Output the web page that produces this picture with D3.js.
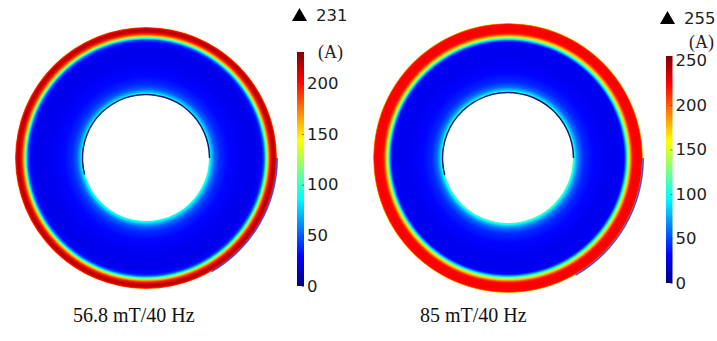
<!DOCTYPE html>
<html>
<head>
<meta charset="utf-8">
<script src="https://cdn.jsdelivr.net/npm/d3@7"></script>
<style>
  html, body { margin: 0; padding: 0; background: #fff; }
  svg { display: block; }
</style>
</head>
<body>
<svg id="chart" width="717" height="341"></svg>
<script>
// Case captions and colour-range maxima (A)
const panelLabels = ["56.8 mT/40 Hz", "85 mT/40 Hz"];
const maxValues = [231, 255];
const tickValuesLeft = [0, 50, 100, 150, 200];
const tickValuesRight = [0, 50, 100, 150, 200, 250];

// Radial current profile across the annulus (radius as fraction of outer radius)
const radiusLeft = [0.481, 0.492, 0.504, 0.527, 0.565, 0.626, 0.725, 0.840, 0.885, 0.901, 0.912, 0.924, 0.935, 0.947, 0.962, 0.977, 0.989, 0.996, 1.0];
const valueLeft  = [95, 85, 70, 50, 38, 30, 26, 24, 30, 50, 85, 125, 165, 195, 212, 220, 208, 190, 165];
const radiusRight = [0.481, 0.493, 0.504, 0.526, 0.563, 0.630, 0.741, 0.830, 0.859, 0.870, 0.881, 0.893, 0.904, 0.915, 0.926, 0.963, 0.989, 0.996, 1.0];
const valueRight  = [115, 100, 80, 58, 42, 33, 28, 28, 32, 60, 100, 140, 175, 205, 222, 225, 222, 190, 160];

const innerFraction = 0.481;

// Jet-style rainbow colour map on [0, 1]
function jet(t) {
  const c = v => Math.max(0, Math.min(1, v));
  const r = c(1.5 - Math.abs(4 * t - 3));
  const g = c(1.5 - Math.abs(4 * t - 2));
  const b = c(1.5 - Math.abs(4 * t - 1));
  return d3.rgb(r * 255, g * 255, b * 255).formatHex();
}

const svg = d3.select("#chart");
const defs = svg.append("defs");

const panels = [
  { id: "p0", cx: 146, cy: 158, R: 131, radii: radiusLeft, values: valueLeft, max: maxValues[0],
    ticks: tickValuesLeft, barX: 297, barW: 7, barBottom: 286, barTop: 52,
    peakX: 292, peakY: 15, unitX: 318, unitY: 52, label: panelLabels[0], labelX: 73 },
  { id: "p1", cx: 508, cy: 158, R: 135, radii: radiusRight, values: valueRight, max: maxValues[1],
    ticks: tickValuesRight, barX: 666, barW: 6.5, barBottom: 283, barTop: 56,
    peakX: 660, peakY: 18, unitX: 689, unitY: 42, label: panelLabels[1], labelX: 420 }
];

panels.forEach(p => {
  const color = d3.scaleSequential(jet).domain([0, p.max]);
  const rScale = d3.scaleLinear().domain([0, 1]).range([0, p.R]);

  // radial gradient built from the profile
  const grad = defs.append("radialGradient")
    .attr("id", "grad-" + p.id)
    .attr("gradientUnits", "userSpaceOnUse")
    .attr("cx", p.cx).attr("cy", p.cy).attr("r", p.R)
    .attr("fx", p.cx).attr("fy", p.cy);
  grad.selectAll("stop")
    .data(p.radii.map((r, i) => ({ r, v: p.values[i] })))
    .join("stop")
    .attr("offset", d => d.r)
    .attr("stop-color", d => color(d.v));

  const g = svg.append("g");

  // annulus
  g.append("circle")
    .attr("cx", p.cx).attr("cy", p.cy).attr("r", rScale(1))
    .attr("fill", `url(#grad-${p.id})`);
  g.append("circle")
    .attr("cx", p.cx).attr("cy", p.cy).attr("r", rScale(innerFraction))
    .attr("fill", "#fff");

  // boundary edges of the conductor
  const arc = d3.arc();
  g.append("path")
    .attr("transform", `translate(${p.cx},${p.cy})`)
    .attr("d", arc({ innerRadius: rScale(innerFraction) - 0.2, outerRadius: rScale(innerFraction) + 1.3,
                     startAngle: -105 * Math.PI / 180, endAngle: Math.PI / 2 }))
    .attr("fill", "#1a1a7a");
  g.append("path")
    .attr("transform", `translate(${p.cx},${p.cy})`)
    .attr("d", arc({ innerRadius: rScale(1) - 0.6, outerRadius: rScale(1) + 1.0,
                     startAngle: Math.PI / 2, endAngle: 150 * Math.PI / 180 }))
    .attr("fill", "#2a32d8")
    .attr("opacity", 0.85);

  // colour bar
  const barGrad = defs.append("linearGradient")
    .attr("id", "bar-" + p.id)
    .attr("x1", 0).attr("y1", 1).attr("x2", 0).attr("y2", 0);
  barGrad.selectAll("stop")
    .data(d3.range(0, 1.0001, 0.025))
    .join("stop")
    .attr("offset", d => d)
    .attr("stop-color", d => jet(d));

  const y = d3.scaleLinear().domain([0, p.max]).range([p.barBottom, p.barTop]);
  g.append("rect")
    .attr("x", p.barX).attr("y", y(p.max))
    .attr("width", p.barW).attr("height", y(0) - y(p.max))
    .attr("fill", `url(#bar-${p.id})`);

  const axis = d3.axisRight(y).tickValues(p.ticks).tickSizeInner(-2).tickSizeOuter(0).tickPadding(3);
  const ax = g.append("g")
    .attr("transform", `translate(${p.barX + p.barW},0)`)
    .call(axis);
  ax.select(".domain").remove();
  ax.selectAll(".tick line").attr("stroke", "#333").attr("stroke-opacity", 0.6);
  ax.selectAll("text")
    .attr("fill", "#1e1e1e")
    .attr("font-family", "DejaVu Sans, Verdana, sans-serif")
    .attr("font-size", 16.5);

  // maximum marker
  g.append("path")
    .attr("d", `M${p.peakX},${p.peakY + 6} l7.5,-13 l7.5,13 Z`)
    .attr("fill", "#000");
  g.append("text")
    .attr("x", p.peakX + 24).attr("y", p.peakY)
    .attr("dy", "0.36em")
    .attr("font-family", "DejaVu Sans, Verdana, sans-serif")
    .attr("font-size", 16.5)
    .attr("fill", "#1e1e1e")
    .text(p.max);

  // unit
  g.append("text")
    .attr("x", p.unitX).attr("y", p.unitY)
    .attr("dy", "0.35em")
    .attr("font-family", "Liberation Serif, Times New Roman, serif")
    .attr("font-size", 18)
    .attr("fill", "#222")
    .text("(A)");

  // caption
  g.append("text")
    .attr("x", p.labelX).attr("y", 322)
    .attr("font-family", "Liberation Serif, Times New Roman, serif")
    .attr("font-size", 20)
    .attr("fill", "#111")
    .text(p.label);
});
</script>
</body>
</html>
